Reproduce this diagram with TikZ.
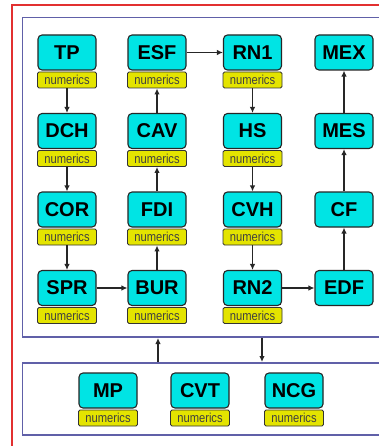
\documentclass[tikz,border=0pt]{standalone}
\usepackage{fontspec}
\setmainfont{Liberation Sans}
\newfontfamily\numfont[FakeStretch=0.86]{Liberation Sans}
\usetikzlibrary{arrows.meta}
\definecolor{boxcyan}{RGB}{0,228,228}
\definecolor{boxedge}{RGB}{0,170,170}
\definecolor{numyel}{RGB}{228,228,0}
\definecolor{panelblue}{RGB}{96,96,168}
\definecolor{framered}{RGB}{226,48,48}
\tikzset{
  mod/.style={draw=black!85, line width=1.1pt, fill=boxcyan, rounded corners=4pt,
    minimum width=58pt, minimum height=35pt, inner sep=0pt,
    font=\fontsize{20}{20}\selectfont\bfseries},
  num/.style={draw=black!80, line width=0.9pt, fill=numyel, rounded corners=1.5pt,
    minimum width=59pt, minimum height=16pt, inner sep=0pt,
    text=black!75, font=\numfont\fontsize{13}{13}\selectfont},
  link/.style={draw=black!85, line width=1.2pt, -{Latex[length=6pt,width=5.5pt]}},
  panel/.style={draw=panelblue, line width=1.8pt},
  frame/.style={draw=framered, line width=1.5pt}
}
\begin{document}
\begin{tikzpicture}[x=1pt,y=-1pt]
\useasboundingbox (0,0) rectangle (379,446);
\clip (0,0) rectangle (379,446);
\fill[white] (0,0) rectangle (379,446);
% frames
\draw[frame] (12,5) rectangle (400,470);
\draw[panel] (22.5,17.5) rectangle (400,337);
\draw[panel] (22.5,363) rectangle (400,435);
% column 1
\node[mod] (tp)  at (67,52.5) {TP};
\node[num] (tpn) at (67,80) {numerics};
\node[mod] (dch) at (67,131) {DCH};
\node[num] (dchn) at (67,158.5) {numerics};
\node[mod] (cor) at (67,209.5) {COR};
\node[num] (corn) at (67,237) {numerics};
\node[mod] (spr) at (67,288) {SPR};
\node[num] (sprn) at (67,315.5) {numerics};
% column 2
\node[mod] (esf) at (157,52.5) {ESF};
\node[num] (esfn) at (157,80) {numerics};
\node[mod] (cav) at (157,131) {CAV};
\node[num] (cavn) at (157,158.5) {numerics};
\node[mod] (fdi) at (157,209.5) {FDI};
\node[num] (fdin) at (157,237) {numerics};
\node[mod] (bur) at (157,288) {BUR};
\node[num] (burn) at (157,315.5) {numerics};
% column 3
\node[mod] (rn1) at (252.5,52.5) {RN1};
\node[num] (rn1n) at (252.5,80) {numerics};
\node[mod] (hs)  at (252.5,131) {HS};
\node[num] (hsn) at (252.5,158.5) {numerics};
\node[mod] (cvh) at (252.5,209.5) {CVH};
\node[num] (cvhn) at (252.5,237) {numerics};
\node[mod] (rn2) at (252.5,288) {RN2};
\node[num] (rn2n) at (252.5,315.5) {numerics};
% column 4
\node[mod] (mex) at (344,52.5) {MEX};
\node[mod] (mes) at (344,131) {MES};
\node[mod] (cf)  at (344,209.5) {CF};
\node[mod] (edf) at (344,288) {EDF};
% bottom panel
\node[mod] (mp)  at (108,390.5) {MP};
\node[num] (mpn) at (108,418) {numerics};
\node[mod] (cvt) at (200,390.5) {CVT};
\node[num] (cvtn) at (200,418) {numerics};
\node[mod] (ncg) at (294,390.5) {NCG};
\node[num] (ncgn) at (294,418) {numerics};
% links
\draw[link] (tpn) -- (dch);
\draw[link] (dchn) -- (cor);
\draw[link] (corn) -- (spr);
\draw[link] (spr) -- (bur);
\draw[link] (bur) -- (fdin);
\draw[link] (fdi) -- (cavn);
\draw[link] (cav) -- (esfn);
\draw[link] (esf) -- (rn1);
\draw[link] (rn1n) -- (hs);
\draw[link] (hsn) -- (cvh);
\draw[link] (cvhn) -- (rn2);
\draw[link] (rn2) -- (edf);
\draw[link] (edf) -- (cf);
\draw[link] (cf) -- (mes);
\draw[link] (mes) -- (mex);
% panel links
\coordinate (upa) at (158,362);
\coordinate (upb) at (158,338);
\coordinate (dna) at (262,338);
\coordinate (dnb) at (262,362);
\draw[link] (upa) -- (upb);
\draw[link] (dna) -- (dnb);
\end{tikzpicture}
\end{document}
